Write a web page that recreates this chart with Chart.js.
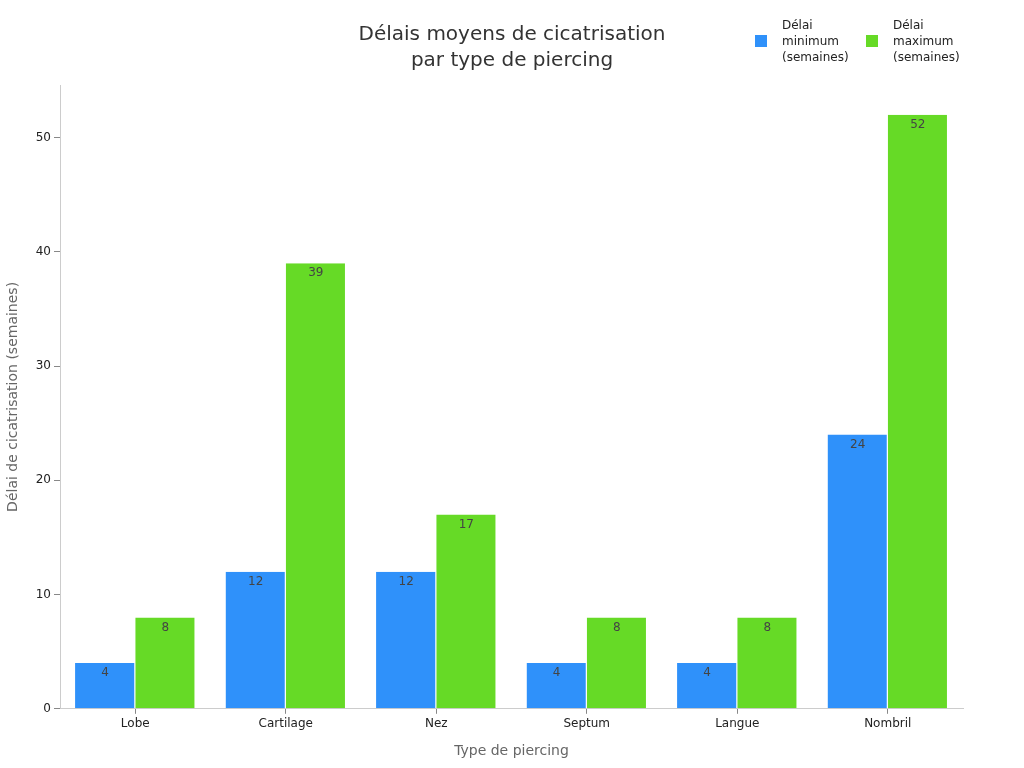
<!DOCTYPE html>
<html><head><meta charset="utf-8">
<script src="https://cdn.jsdelivr.net/npm/chart.js@4/dist/chart.umd.min.js"></script>
<style>
html,body{margin:0;padding:0;background:#fff;}
#wrap{position:relative;width:1024px;height:768px;}
#legend{position:absolute;top:17px;left:755px;font-family:"DejaVu Sans",sans-serif;font-size:12px;color:#222;line-height:16px;}
.li{position:absolute;top:0;}
.sw{position:absolute;width:12px;height:12px;top:18px;left:0;}
.tx{position:absolute;left:27px;top:0;white-space:nowrap;}
</style></head>
<body><div id="wrap"><canvas id="c" width="1024" height="768"></canvas>
<div id="legend"></div></div>
<script>
const categories = ["Lobe","Cartilage","Nez","Septum","Langue","Nombril"];
const minWeeks = [4,12,12,4,4,24];
const maxWeeks = [8,39,17,8,8,52];
const seriesNames = [["Délai","minimum","(semaines)"],["Délai","maximum","(semaines)"]];
const colors = ["#2F91FA","#66DA26"];
const titleLines = ["Délais moyens de cicatrisation","par type de piercing"];

const leg = document.getElementById('legend');
seriesNames.forEach((n,i)=>{
  const d=document.createElement('div');d.className='li';d.style.left=(i*111)+'px';
  d.innerHTML='<div class="sw" style="background:'+colors[i]+'"></div><div class="tx">'+n.join('<br>')+'</div>';
  leg.appendChild(d);
});

const labelPlugin={id:'vals',afterDatasetsDraw(chart){
  const ctx=chart.ctx;ctx.save();
  ctx.font='12px "DejaVu Sans"';ctx.fillStyle='#444';ctx.textAlign='center';ctx.textBaseline='middle';
  chart.data.datasets.forEach((ds,di)=>{
    chart.getDatasetMeta(di).data.forEach((el,i)=>{
      ctx.fillText(String(ds.data[i]),el.x,el.y+10);
    });
  });
  ctx.restore();
}};
const titlePlugin={id:'ctitle',afterDraw(chart){
  const ctx=chart.ctx;ctx.save();
  ctx.font='20px "DejaVu Sans"';ctx.fillStyle='#333';ctx.textAlign='center';ctx.textBaseline='middle';
  titleLines.forEach((t,i)=>ctx.fillText(t,512,35+i*26));
  ctx.restore();
}};

new Chart(document.getElementById('c'),{
  type:'bar',
  data:{labels:categories,datasets:[
    {label:seriesNames[0].join(' '),data:minWeeks,backgroundColor:colors[0],borderColor:'#ffffff',borderWidth:{left:0,right:1,top:0,bottom:0}},
    {label:seriesNames[1].join(' '),data:maxWeeks,backgroundColor:colors[1],borderColor:'#ffffff',borderWidth:{left:0,right:1,top:0,bottom:0}}
  ]},
  options:{
    responsive:false,animation:false,
    layout:{padding:{left:0,right:61,top:85,bottom:8}},
    datasets:{bar:{categoryPercentage:0.8,barPercentage:1.0}},
    plugins:{
      legend:{display:false},tooltip:{enabled:false},title:{display:false}
    },
    scales:{
      x:{
        grid:{display:true,offset:false,drawOnChartArea:false,drawTicks:true,tickLength:5,tickColor:'#888'},
        border:{color:'#ccc'},
        ticks:{color:'#222',font:{family:'DejaVu Sans',size:12},padding:3},
        title:{display:true,text:'Type de piercing',color:'#666',font:{family:'DejaVu Sans',size:14},padding:{top:9,bottom:0}}
      },
      y:{
        min:0,max:54.6,
        afterFit(s){s.width=60;},
        afterBuildTicks(s){s.ticks=[0,10,20,30,40,50].map(v=>({value:v}));},
        grid:{display:true,drawOnChartArea:false,drawTicks:true,tickLength:6,tickColor:'#888'},
        border:{color:'#ccc'},
        ticks:{color:'#222',font:{family:'DejaVu Sans',size:12},padding:3},
        title:{display:true,text:'Délai de cicatrisation (semaines)',color:'#666',font:{family:'DejaVu Sans',size:14},padding:{top:5,bottom:4}}
      }
    }
  },
  plugins:[labelPlugin,titlePlugin]
});
</script></body></html>
